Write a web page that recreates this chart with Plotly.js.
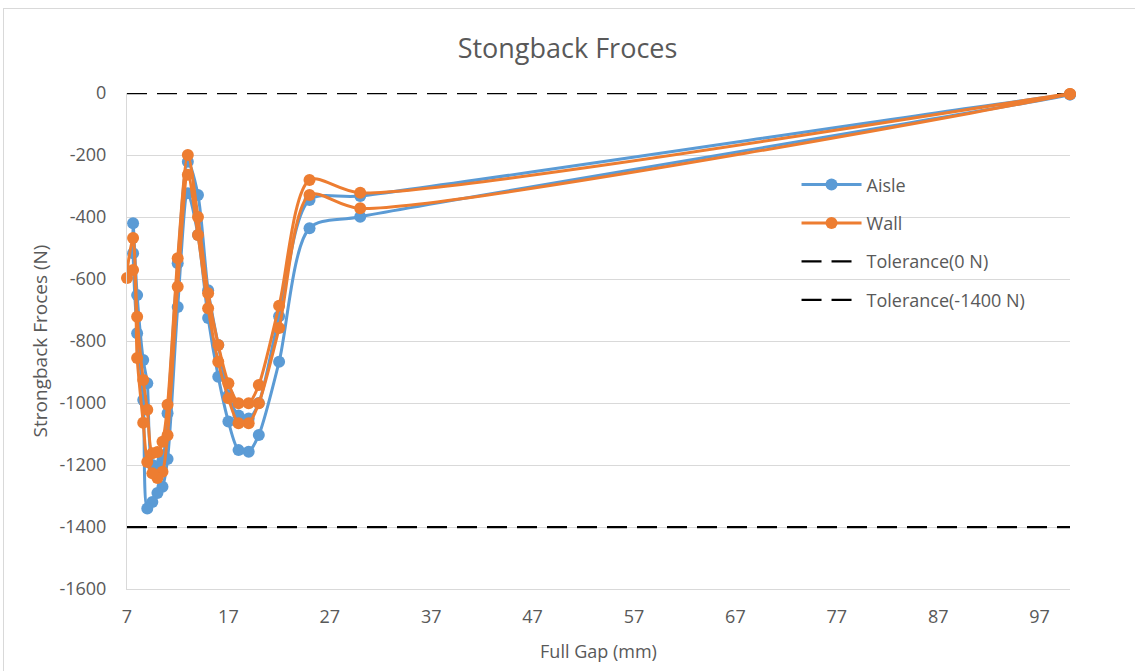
<!DOCTYPE html>
<html>
<head>
<meta charset="utf-8">
<script src="https://cdn.plot.ly/plotly-3.0.1.min.js"></script>
<style>
  html, body { margin: 0; padding: 0; background: #fff; }
  #wrap { position: relative; width: 1135px; height: 671px; }
  #chart { width: 1135px; height: 671px; }
  #frame { position: absolute; left: 3px; top: 8px; width: 1140px; height: 680px; border: 1px solid #D9D9D9; pointer-events: none; box-sizing: border-box; }
</style>
</head>
<body>
<div id="wrap">
  <div id="chart"></div>
  <div id="frame"></div>
</div>
<script>
// Full gap (mm) and strongback forces (N)
const aisleX = [100, 30, 25, 22, 20, 19, 18, 17, 16, 15, 14, 13, 12, 11, 10.5, 10, 9.5, 9, 8.6, 8, 7.6,
                7.6, 8, 8.6, 9, 9.5, 10, 10.5, 11, 12, 13, 14, 15, 16, 17, 18, 19, 20, 22, 25, 30, 100];
const aisleY = [-5, -399, -436, -867, -1103, -1157, -1152, -1060, -915, -726, -458, -323, -690, -1181, -1270, -1290, -1319, -1340, -990, -775, -517,
                -420, -652, -861, -936, -1200, -1205, -1185, -1033, -549, -222, -329, -636, -813, -975, -1040, -1050, -1000, -720, -345, -332, -5];

const wallX = [100, 30, 25, 22, 20, 19, 18, 17, 16, 15, 14, 13, 12, 11, 10.5, 10, 9.5, 9, 8.6, 8, 7.6, 7,
               7.6, 8, 8.6, 9, 9.5, 10, 10.5, 11, 12, 13, 14, 15, 16, 17, 18, 19, 20, 22, 25, 30, 100];
const wallY = [-3, -372, -329, -758, -1001, -1065, -1065, -985, -867, -694, -458, -264, -625, -1104, -1222, -1242, -1227, -1190, -1064, -855, -571, -597,
               -468, -722, -926, -1022, -1162, -1158, -1125, -1006, -533, -200, -400, -646, -813, -936, -1001, -1001, -942, -686, -281, -322, -3];

const tolX = [7, 100];
const tol0 = [0, 0];
const tol1400 = [-1400, -1400];

const xTicks = [7, 17, 27, 37, 47, 57, 67, 77, 87, 97];
const yTicks = [0, -200, -400, -600, -800, -1000, -1200, -1400, -1600];

const FONT = '"Open Sans", "Noto Sans", sans-serif';
const TXT = '#595959';

const traces = [
  { x: tolX, y: tol0, name: 'Tolerance(0 N)', mode: 'lines', legendrank: 3, legendgroup: 'c', cliponaxis: false,
    line: { color: '#000000', width: 2.25, dash: '20px,10px' } },
  { x: tolX, y: tol1400, name: 'Tolerance(-1400 N)', mode: 'lines', legendrank: 4, legendgroup: 'd', cliponaxis: false,
    line: { color: '#000000', width: 2.25, dash: '20px,10px' } },
  { x: aisleX, y: aisleY, name: 'Aisle', mode: 'lines+markers', legendrank: 1, legendgroup: 'a', cliponaxis: false,
    line: { color: '#5B9BD5', width: 3, shape: 'spline', smoothing: 0.8 },
    marker: { color: '#5B9BD5', size: 12 } },
  { x: wallX, y: wallY, name: 'Wall', mode: 'lines+markers', legendrank: 2, legendgroup: 'b', cliponaxis: false,
    line: { color: '#ED7D31', width: 3, shape: 'spline', smoothing: 0.8 },
    marker: { color: '#ED7D31', size: 12 } }
];

const layout = {
  width: 1135, height: 671,
  margin: { l: 127, r: 65, t: 93, b: 82 },
  paper_bgcolor: '#ffffff', plot_bgcolor: '#ffffff',
  font: { family: FONT, color: TXT, size: 18 },
  title: { text: 'Stongback Froces', font: { family: FONT, size: 27, color: TXT }, x: 0.5, xanchor: 'center', y: 0.928, yanchor: 'middle' },
  xaxis: {
    range: [7, 100], tickvals: xTicks, ticktext: xTicks.map(String),
    showgrid: false, zeroline: false, showline: true, linecolor: '#D9D9D9', linewidth: 1,
    ticks: '', ticklen: 0, tickfont: { size: 18, color: TXT }, ticklabelstandoff: 11,
    title: { text: 'Full Gap (mm)', font: { size: 18, color: TXT }, standoff: 18 }
  },
  yaxis: {
    range: [-1600, 0], tickvals: yTicks, ticktext: yTicks.map(String),
    showgrid: true, gridcolor: '#D9D9D9', gridwidth: 1, zeroline: false,
    showline: true, linecolor: '#D9D9D9', linewidth: 1,
    ticks: '', tickfont: { size: 18, color: TXT }, ticklabelstandoff: 16,
    title: { text: 'Strongback Froces (N)', font: { size: 19, color: TXT }, standoff: 6 }
  },
  showlegend: true,
  legend: {
    x: 0.71, y: 0.852, xanchor: 'left', yanchor: 'top',
    bgcolor: 'rgba(0,0,0,0)', font: { size: 18, color: TXT },
    itemwidth: 60, tracegroupgap: 12, traceorder: 'grouped'
  }
};

Plotly.newPlot('chart', traces, layout, { staticPlot: true, displayModeBar: false });
</script>
</body>
</html>
